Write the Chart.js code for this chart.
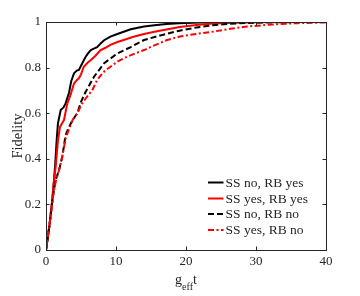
<!DOCTYPE html>
<html>
<head>
<meta charset="utf-8">
<script src="https://cdn.jsdelivr.net/npm/chart.js@4.4.0/dist/chart.umd.min.js"></script>
<style>
html,body{margin:0;padding:0;background:#fff;}
#wrap{width:360px;height:296px;}
</style>
</head>
<body>
<div id="wrap"><canvas id="c" width="360" height="296"></canvas></div>
<script>
const xTicks = [0, 10, 20, 30, 40];
const yTicks = [0, 0.2, 0.4, 0.6, 0.8, 1];
const seriesLabels = ["SS no, RB yes", "SS yes, RB yes", "SS no, RB no", "SS yes, RB no"];

const ssNoRbYes = [[0,0],[0.5,0.11],[1.0,0.25],[1.29,0.365],[1.52,0.48],[1.71,0.556],[2.1,0.614],[2.5,0.625],[2.8,0.643],[3.29,0.69],[3.6,0.74],[4.0,0.775],[4.4,0.787],[4.7,0.79],[5.2,0.82],[5.67,0.848],[6.0,0.862],[6.4,0.877],[6.9,0.884],[7.3,0.89],[7.8,0.906],[8.3,0.92],[9.2,0.936],[10.0,0.945],[10.7,0.953],[12.1,0.968],[14,0.98],[15.5,0.986],[17.2,0.991],[19,0.995],[22,0.998],[26,0.999],[30,1],[40,1]];
const ssYesRbYes = [[0,0],[0.43,0.088],[0.8,0.19],[1.05,0.28],[1.38,0.365],[1.71,0.48],[2.0,0.54],[2.3,0.556],[2.57,0.57],[3.05,0.643],[3.5,0.68],[4.0,0.73],[4.4,0.745],[4.7,0.753],[5.0,0.77],[5.4,0.804],[5.9,0.82],[6.4,0.833],[7.0,0.85],[7.8,0.877],[8.5,0.887],[9.2,0.90],[10.2,0.912],[11.1,0.921],[12.5,0.935],[14,0.947],[15.5,0.957],[17.2,0.967],[19.1,0.978],[21.5,0.987],[23.9,0.993],[27,0.997],[30,0.999],[35,1],[40,1]];
const ssNoRbNo = [[0,0],[0.5,0.11],[1.0,0.235],[1.38,0.307],[1.86,0.35],[2.33,0.41],[2.8,0.504],[3.29,0.54],[3.8,0.57],[4.47,0.60],[5.0,0.65],[5.67,0.694],[6.86,0.76],[8.3,0.819],[10.2,0.862],[12.1,0.89],[14,0.921],[15.8,0.937],[17.7,0.952],[19.1,0.962],[21.5,0.976],[23.9,0.986],[26.3,0.992],[28.7,0.996],[32,0.998],[36,1],[40,1]];
const ssYesRbNo = [[0,0],[0.5,0.11],[1.0,0.235],[1.38,0.30],[1.86,0.35],[2.33,0.41],[2.8,0.49],[3.3,0.53],[3.8,0.57],[4.5,0.60],[5.1,0.64],[5.8,0.67],[6.6,0.70],[7.3,0.746],[8.2,0.78],[9.2,0.804],[10.4,0.83],[11.6,0.848],[14,0.877],[15.3,0.895],[17.2,0.92],[19.1,0.936],[21.5,0.948],[23.9,0.958],[26.3,0.97],[28.7,0.98],[31,0.986],[33.4,0.991],[36,0.995],[40,0.998]];

const TXT = '#262626';
const SERIF = '"Liberation Serif","DejaVu Serif",serif';

function pts(a){ return a.map(p => ({x:p[0], y:p[1]})); }

const styles = [
  {color:'#000000', dash:[]},
  {color:'#ff0000', dash:[]},
  {color:'#000000', dash:[6,3]},
  {color:'#ff0000', dash:[6,2.5,2,2.5]}
];
const seriesData = [ssNoRbYes, ssYesRbYes, ssNoRbNo, ssYesRbNo];

const datasets = seriesData.map((d,i) => ({
  label: seriesLabels[i],
  data: pts(d),
  borderColor: styles[i].color,
  borderDash: styles[i].dash,
  borderWidth: 2,
  pointRadius: 0,
  fill: false,
  tension: 0,
  order: 3 - i
}));

const framePlugin = {
  id: 'frame',
  afterDatasetsDraw(chart){
    const ctx = chart.ctx;
    const a = chart.chartArea;
    const xs = chart.scales.x, ys = chart.scales.y;
    ctx.save();
    ctx.strokeStyle = TXT;
    ctx.lineWidth = 1;
    ctx.setLineDash([]);
    ctx.strokeRect(Math.round(a.left)+0.5, Math.round(a.top)+0.5, Math.round(a.right-a.left), Math.round(a.bottom-a.top));
    const tl = 3.5;
    ctx.beginPath();
    xTicks.forEach(v => {
      const px = Math.round(xs.getPixelForValue(v))+0.5;
      ctx.moveTo(px, a.bottom); ctx.lineTo(px, a.bottom - tl);
      ctx.moveTo(px, a.top); ctx.lineTo(px, a.top + tl);
    });
    yTicks.forEach(v => {
      const py = Math.round(ys.getPixelForValue(v))+0.5;
      ctx.moveTo(a.left, py); ctx.lineTo(a.left + tl, py);
      ctx.moveTo(a.right, py); ctx.lineTo(a.right - tl, py);
    });
    ctx.stroke();

    // legend
    ctx.font = '13.5px ' + SERIF;
    ctx.textBaseline = 'middle';
    ctx.textAlign = 'left';
    const rows = [182.5, 198.5, 214, 230];
    chart.data.datasets.forEach((ds,i) => {
      const y = rows[i];
      ctx.beginPath();
      ctx.strokeStyle = ds.borderColor;
      ctx.lineWidth = 2;
      ctx.setLineDash(ds.borderDash);
      ctx.moveTo(208, y); ctx.lineTo(223.5, y);
      ctx.stroke();
      ctx.fillStyle = TXT;
      ctx.fillText(ds.label, 225.5, y + 0.5);
    });
    ctx.setLineDash([]);

    // x title g_eff t
    ctx.fillStyle = TXT;
    ctx.textBaseline = 'alphabetic';
    ctx.font = '14px ' + SERIF;
    const gW = ctx.measureText('g').width;
    ctx.font = '10px ' + SERIF;
    const eW = ctx.measureText('eff').width;
    ctx.font = '14px ' + SERIF;
    const tW = ctx.measureText('t').width;
    const total = gW + eW + tW;
    let x0 = 186 - total/2;
    ctx.fillText('g', x0, 284);
    ctx.font = '10px ' + SERIF;
    ctx.fillText('eff', x0 + gW, 290);
    ctx.font = '14px ' + SERIF;
    ctx.fillText('t', x0 + gW + eW, 284);

    // y title
    ctx.save();
    ctx.translate(18, 136);
    ctx.rotate(-Math.PI/2);
    ctx.textAlign = 'center';
    ctx.textBaseline = 'middle';
    ctx.font = '14.5px ' + SERIF;
    ctx.fillText('Fidelity', 0, 0);
    ctx.restore();
    ctx.restore();
  }
};

new Chart(document.getElementById('c'), {
  type: 'line',
  data: { datasets },
  options: {
    responsive: false,
    animation: false,
    layout: { padding: { top: 22, right: 34, left: 0, bottom: 0 } },
    plugins: { legend: { display: false }, tooltip: { enabled: false } },
    scales: {
      x: {
        type: 'linear', min: 0, max: 40,
        afterFit(s){ s.height = 46; },
        afterBuildTicks(s){ s.ticks = xTicks.map(v => ({value:v})); },
        ticks: { color: TXT, font: { family: SERIF, size: 13 }, padding: 4, maxRotation: 0,
          callback: v => String(v) },
        grid: { display: false, drawTicks: false },
        border: { display: false }
      },
      y: {
        type: 'linear', min: 0, max: 1,
        afterFit(s){ s.width = 46; },
        afterBuildTicks(s){ s.ticks = yTicks.map(v => ({value:v})); },
        ticks: { color: TXT, font: { family: SERIF, size: 13 }, padding: 5,
          callback: v => String(Math.round(v*10)/10) },
        grid: { display: false, drawTicks: false },
        border: { display: false }
      }
    }
  },
  plugins: [framePlugin]
});
</script>
</body>
</html>
